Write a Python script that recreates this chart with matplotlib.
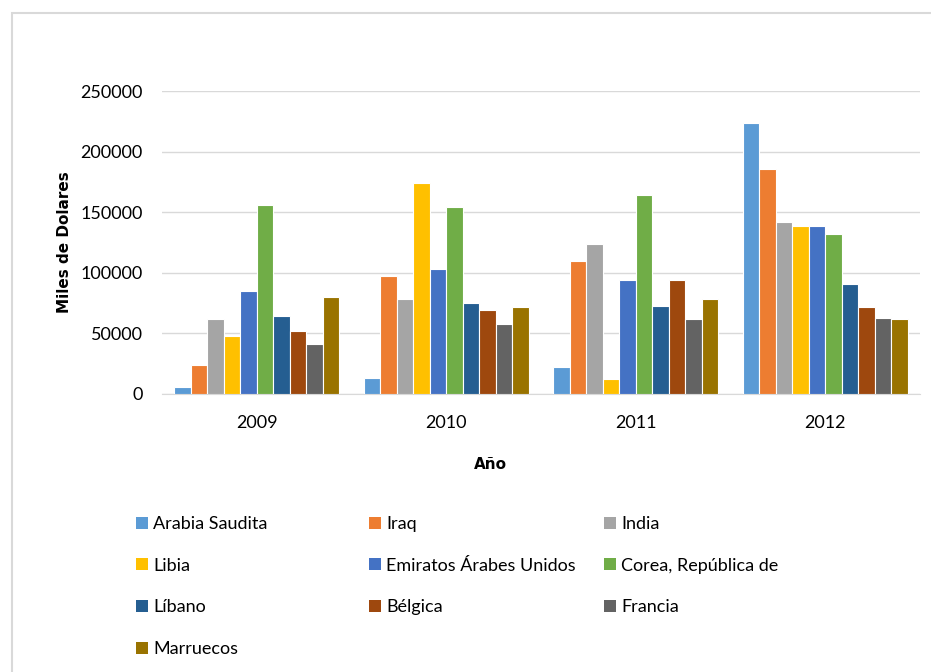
import numpy as np
import matplotlib
matplotlib.use("Agg")
import matplotlib.pyplot as plt
from matplotlib.patches import Patch, Rectangle

anios = ["2009", "2010", "2011", "2012"]
paises = ["Arabia Saudita", "Iraq", "India", "Libia", "Emiratos Árabes Unidos",
          "Corea, República de", "Líbano", "Bélgica", "Francia", "Marruecos"]

arabia_saudita = [6000, 13000, 22000, 224000]
iraq = [24000, 97000, 110000, 186000]
india = [62000, 78000, 124000, 142000]
libia = [48000, 174000, 12000, 139000]
emiratos = [85000, 103000, 94000, 139000]
corea = [156000, 154000, 164000, 132000]
libano = [64000, 75000, 73000, 91000]
belgica = [52000, 69000, 94000, 72000]
francia = [41000, 58000, 62000, 63000]
marruecos = [80000, 72000, 78000, 62000]

series = [arabia_saudita, iraq, india, libia, emiratos, corea, libano, belgica, francia, marruecos]
colores = ["#5B9BD5", "#ED7D31", "#A5A5A5", "#FFC000", "#4472C4",
           "#70AD47", "#255E91", "#9E480E", "#636363", "#997300"]

plt.rcParams['font.family'] = ['Lato', 'DejaVu Sans']

fig = plt.figure(figsize=(9.31, 6.72), dpi=100)
ax = fig.add_axes([162/931, 1-394/672, 758/931, 303/672])

x = np.arange(len(anios))
ancho = 0.087
for i, (vals, c) in enumerate(zip(series, colores)):
    pos = x + (i - 4.5) * ancho
    ax.bar(pos, vals, width=ancho, color=c, edgecolor="white", linewidth=0.8, zorder=3)

ax.set_xlim(-0.5, 3.5)
ax.set_ylim(0, 250000)
ax.set_yticks(np.arange(0, 250001, 50000))
ax.set_xticks(x)
ax.set_xticklabels(anios)
ax.grid(axis="y", color="#D9D9D9", linewidth=1, zorder=0)
for s in ["top", "right", "left"]:
    ax.spines[s].set_visible(False)
ax.spines["bottom"].set_color("#D9D9D9")
ax.tick_params(axis="both", length=0, labelsize=13, colors="#000000")
ax.tick_params(axis="x", pad=15)
ax.tick_params(axis="y", pad=14)

ax.set_ylabel("Miles de Dolares", fontsize=11, fontweight="bold", family="DejaVu Sans")
ax.yaxis.set_label_coords((72-162)/758, 0.5)
ax.set_xlabel("Año", fontsize=11, fontweight="bold", family="DejaVu Sans")
ax.xaxis.set_label_coords((490-162)/758, (394-457)/303)

# leyenda en tres columnas, llenado por filas
handles = [Patch(facecolor=c) for c in colores]
col_x = [136/931, 369/931, 604/931]
for k in range(3):
    idx = list(range(k, len(paises), 3))
    fig.legend([handles[j] for j in idx], [paises[j] for j in idx],
               loc="upper left", bbox_to_anchor=(col_x[k], 1-516/672),
               frameon=False, fontsize=13, handlelength=0.65, handleheight=0.65,
               handletextpad=0.3, labelspacing=1.42, borderaxespad=0, borderpad=0)

fig.patches.append(Rectangle((12/931, -0.05), 1.0, 1-13/672+0.05, transform=fig.transFigure,
                             fill=False, edgecolor="#D9D9D9", linewidth=1.5))

fig.savefig("out.png", dpi=100)
